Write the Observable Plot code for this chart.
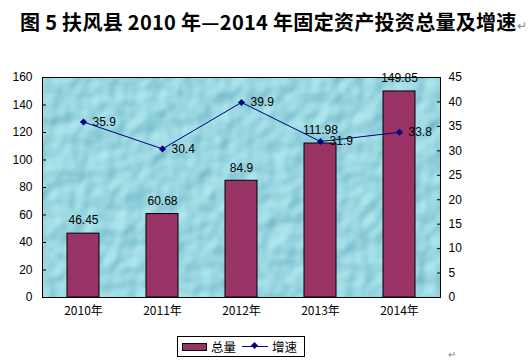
<!DOCTYPE html>
<html><head><meta charset="utf-8">
<script src="https://cdn.jsdelivr.net/npm/d3@7"></script>
<script src="https://cdn.jsdelivr.net/npm/@observablehq/plot@0.6"></script>
<style>
body{margin:0;background:#fff;width:532px;height:363px;overflow:hidden;position:relative;font-family:"Liberation Sans",Arial,sans-serif}
#title{position:absolute;left:20px;top:7px;font-family:"Noto Sans CJK SC",sans-serif;font-weight:bold;font-size:20px;white-space:nowrap;color:#000;letter-spacing:0.3px}
#title .pm{font-weight:normal;font-size:12px;color:#888}
#chart{position:absolute;left:0;top:38px}
#legend{position:absolute;left:177px;top:336px;width:126px;height:19px;border:1px solid #000;background:#fff;font-family:"Noto Sans CJK SC",sans-serif;font-size:12.5px;display:flex;align-items:center;white-space:nowrap}
.sw{display:inline-block;flex:none;width:23px;height:6px;background:#993366;border:1px solid #000;margin-left:4px;margin-right:4px}
.ln{position:relative;display:inline-block;flex:none;width:26px;height:1px;background:#000080;margin-left:6px;margin-right:4px}
.ln:after{content:"";position:absolute;left:10px;top:-3px;width:5px;height:5px;background:#000080;transform:rotate(45deg)}
#pm2{position:absolute;left:448px;top:349px;font-size:10px;color:#888}
</style></head>
<body>
<div id="title">图 5 扶风县 2010 年—2014 年固定资产投资总量及增速<span class="pm">↵</span></div>
<div id="chart"></div>
<div id="legend"><span class="sw"></span><span>总量</span><span class="ln"></span><span>增速</span></div>
<div id="pm2">↵</div>
<script>
const years = ["2010年","2011年","2012年","2013年","2014年"];
const totals = [46.45, 60.68, 84.9, 111.98, 149.85];
const growth = [35.9, 30.4, 39.9, 31.9, 33.8];
const leftTicks = [0,20,40,60,80,100,120,140,160];
const rightTicks = [0,5,10,15,20,25,30,35,40,45];
const leftMax = 160, rightMax = 45;
const k = leftMax / rightMax;

const bars = years.map((y,i)=>({year:y, v:totals[i]}));
const pts = years.map((y,i)=>({year:y, g:growth[i], gy:growth[i]*k}));

const chart = Plot.plot({
  width: 532, height: 287,
  marginLeft: 42, marginRight: 92, marginTop: 39, marginBottom: 28,
  style: {fontFamily: '"Liberation Sans", Arial, sans-serif', fontSize: "12px", color:"#000", background:"transparent", overflow:"visible"},
  x: {domain: years, paddingInner: 0.6, paddingOuter: 0.3, axis: null},
  y: {domain: [0, leftMax], axis: null},
  marks: [
    Plot.frame({fill: "url(#drops)", stroke: "none"}),
    Plot.barY(bars, {x: "year", y: "v", fill: "#993366", stroke: "#000", strokeWidth: 1}),
    Plot.text(bars, {x: "year", y: "v", text: d => String(d.v), dy: -13, fontSize: 12, fill:"#000"}),
    Plot.line(pts, {x: "year", y: "gy", stroke: "#000080", strokeWidth: 1}),
    Plot.dot(pts, {x: "year", y: "gy", symbol: "diamond2", r: 3.2, fill: "#000080", stroke: "none"}),
    Plot.text(pts, {x: "year", y: "gy", text: d => String(d.g), dx: 9, textAnchor: "start", fontSize: 12, fill:"#000"}),
    Plot.axisY({ticks: leftTicks, anchor: "left", tickSize: -4, tickPadding: 14, fontSize: 12, tickFormat: d => String(d), label: null}),
    Plot.axisY({ticks: rightTicks.map(v => v*k), anchor: "right", tickSize: -4, tickPadding: 12, fontSize: 12, tickFormat: d => String(Math.round(d/k)), label: null}),
    Plot.axisX({anchor: "bottom", tickSize: 0, tickPadding: 9, fontSize: 12, fontFamily: '"Noto Sans CJK SC", sans-serif', label: null}),
    Plot.frame({stroke: "#000", strokeWidth: 1})
  ]
});

const ns = "http://www.w3.org/2000/svg";
const defs = document.createElementNS(ns, "defs");
defs.innerHTML = `
 <filter id="tex" x="0" y="0" width="100%" height="100%" color-interpolation-filters="sRGB">
   <feTurbulence type="fractalNoise" baseFrequency="0.05" numOctaves="2" seed="7" result="n"/>
   <feDiffuseLighting in="n" lighting-color="#ffffff" surfaceScale="3" result="l">
     <feDistantLight azimuth="225" elevation="50"/>
   </feDiffuseLighting>
   <feColorMatrix in="l" type="matrix" values="0.5 0 0 0 0.22  0 0.38 0 0 0.55  0 0 0.3 0 0.65  0 0 0 0 1"/>
 </filter>
 <pattern id="drops" patternUnits="userSpaceOnUse" width="532" height="287">
   <rect width="532" height="287" fill="#a0d8e3" filter="url(#tex)"/>
 </pattern>`;
chart.insertBefore(defs, chart.firstChild);
document.getElementById("chart").appendChild(chart);
</script>
</body></html>
